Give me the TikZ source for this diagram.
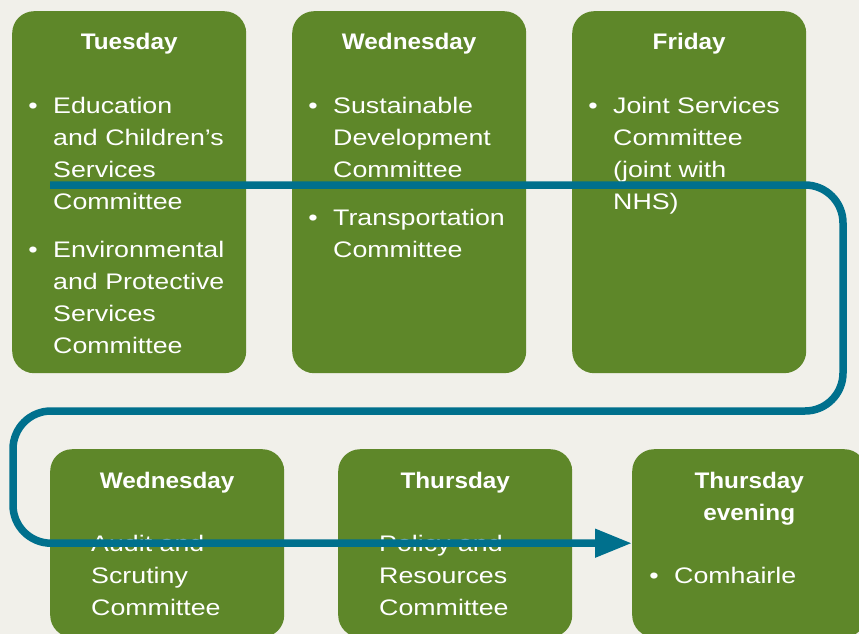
\documentclass[tikz,border=0pt]{standalone}
\usepackage{fontspec}
\setmainfont{Liberation Sans}[FakeStretch=1.19]
\newfontfamily\headfont{Liberation Sans}[FakeStretch=1.08]
\usetikzlibrary{arrows.meta}

\definecolor{paper}{RGB}{241,240,234}
\definecolor{leafgreen}{RGB}{94,135,41}
\definecolor{route}{RGB}{0,112,141}

% base of a multi-line node is the baseline of its last line
\tikzset{
  daybox/.style={rectangle, rounded corners=22pt, fill=leafgreen,
    minimum width=234pt, minimum height=362pt, inner sep=0pt, anchor=north west},
  dayhead/.style={text=white, inner sep=0pt, align=center, anchor=base,
    font=\headfont\bfseries\fontsize{22.5}{32}\selectfont},
  duty/.style={text=white, inner sep=0pt, align=left, anchor=base west,
    font=\fontsize{22.5}{32}\selectfont},
  dot/.style={text=white, inner sep=0pt, anchor=base,
    font=\fontsize{22.5}{32}\selectfont},
}

\begin{document}
\begin{tikzpicture}[x=1pt, y=-1pt]
  \useasboundingbox (0,0) rectangle (859,634);
  \clip (0,0) rectangle (859,634);
  \fill[paper] (0,0) rectangle (859,634);

  % top row
  \node[daybox] (tue) at (12,11) {};
  \node[daybox] (wedA) at (292,11) {};
  \node[daybox] (fri) at (572,11) {};
  % bottom row, runs off the page
  \node[daybox, minimum height=188pt] (wedB) at (50,449) {};
  \node[daybox, minimum height=188pt] (thu) at (338,449) {};
  \node[daybox, minimum height=188pt] (eve) at (632,449) {};

  \node[dayhead] (tueH) at (tue.north |- 0,50) {Tuesday};
  \node[dayhead] (wedAH) at (wedA.north |- 0,50) {Wednesday};
  \node[dayhead] (friH) at (fri.north |- 0,50) {Friday};
  \node[dayhead] (wedBH) at (wedB.north |- 0,488) {Wednesday};
  \node[dayhead] (thuH) at (thu.north |- 0,488) {Thursday};
  \node[dayhead] (eveH) at (eve.north |- 0,520) {Thursday\\evening};

  % committees
  \node[dot] (tueD1) at (33,113) {•};
  \node[duty] (tue1) at (53,209) {Education\\and Children’s\\Services\\Committee};
  \node[dot] (tueD2) at (33,257) {•};
  \node[duty] (tue2) at (53,353) {Environmental\\and Protective\\Services\\Committee};
  \node[dot] (wedAD1) at (313,113) {•};
  \node[duty] (wedA1) at (333,177) {Sustainable\\Development\\Committee};
  \node[dot] (wedAD2) at (313,225) {•};
  \node[duty] (wedA2) at (333,257) {Transportation\\Committee};
  \node[dot] (friD1) at (593,113) {•};
  \node[duty] (fri1) at (613,209) {Joint Services\\Committee\\(joint with\\NHS)};
  \node[dot] (wedBD1) at (71,551) {•};
  \node[duty] (wedB1) at (91,615) {Audit and\\Scrutiny\\Committee};
  \node[dot] (thuD1) at (359,551) {•};
  \node[duty] (thu1) at (379,615) {Policy and\\Resources\\Committee};
  \node[dot] (eveD1) at (654,583) {•};
  \node[duty] (eve1) at (674,583) {Comhairle};

  % order of the week
  \coordinate (start) at (50,185);
  \draw[route, line width=7.5pt, rounded corners=38pt,
    -{Triangle[length=37pt,width=27pt]}]
    (start) -- (843,185) -- (843,411) -- (13,411) |- (eve.west);
\end{tikzpicture}
\end{document}
